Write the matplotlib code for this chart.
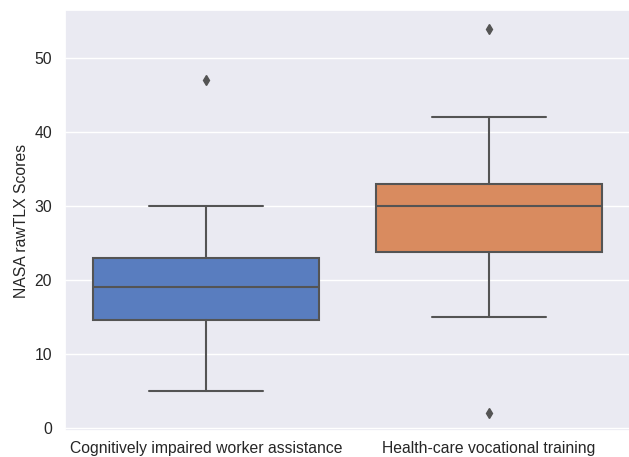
import colorsys
import matplotlib
matplotlib.use("Agg")
import matplotlib.pyplot as plt
import seaborn as sns

# Box statistics
categories = ["Cognitively impaired worker assistance", "Health-care vocational training"]
q1 = [14.6, 23.75]
medians = [19.0, 30.0]
q3 = [23.0, 33.0]
whisker_low = [5.0, 15.0]
whisker_high = [30.0, 42.0]
outliers = [[47.0], [54.0, 2.0]]
yticks = [0, 10, 20, 30, 40, 50]

sns.set_theme(style="darkgrid", palette="muted")
plt.rcParams["font.family"] = ["Liberation Sans", "DejaVu Sans"]

colors = [sns.desaturate(c, 0.75) for c in sns.color_palette("muted", len(categories))]
# seaborn-like line gray: darkest fill lightness * 0.6
light = min(colorsys.rgb_to_hls(*c)[1] for c in colors) * 0.6
gray = (light, light, light)

stats = []
for i, name in enumerate(categories):
    stats.append({
        "label": name,
        "q1": q1[i],
        "med": medians[i],
        "q3": q3[i],
        "whislo": whisker_low[i],
        "whishi": whisker_high[i],
        "fliers": outliers[i],
    })

fig = plt.figure(figsize=(6.29, 4.57), dpi=100)
ax = fig.add_axes([64.5 / 629, 26 / 457, 566 / 629, 421 / 457])

bp = ax.bxp(
    stats,
    positions=range(len(categories)),
    widths=0.8,
    patch_artist=True,
    showfliers=True,
    boxprops=dict(edgecolor=gray, linewidth=1.5),
    medianprops=dict(color=gray, linewidth=1.5),
    whiskerprops=dict(color=gray, linewidth=1.5),
    capprops=dict(color=gray, linewidth=1.5),
    flierprops=dict(marker="d", markerfacecolor=gray, markeredgecolor=gray, markersize=5),
)
for patch, c in zip(bp["boxes"], colors):
    patch.set_facecolor(c)

ax.set_xlim(-0.5, len(categories) - 0.5)
ax.set_ylim(-0.45, 56.54)
ax.set_yticks(yticks)
ax.set_xticks(range(len(categories)))
ax.set_xticklabels(categories)
ax.xaxis.grid(False)
ax.tick_params(labelsize=11.3, colors=".15", length=0)
ax.tick_params(axis="x", pad=7)
ax.tick_params(axis="y", pad=9)
ax.set_ylabel("NASA rawTLX Scores", fontsize=11.3, color=".15", labelpad=4)

fig.savefig("out.png", dpi=100)
